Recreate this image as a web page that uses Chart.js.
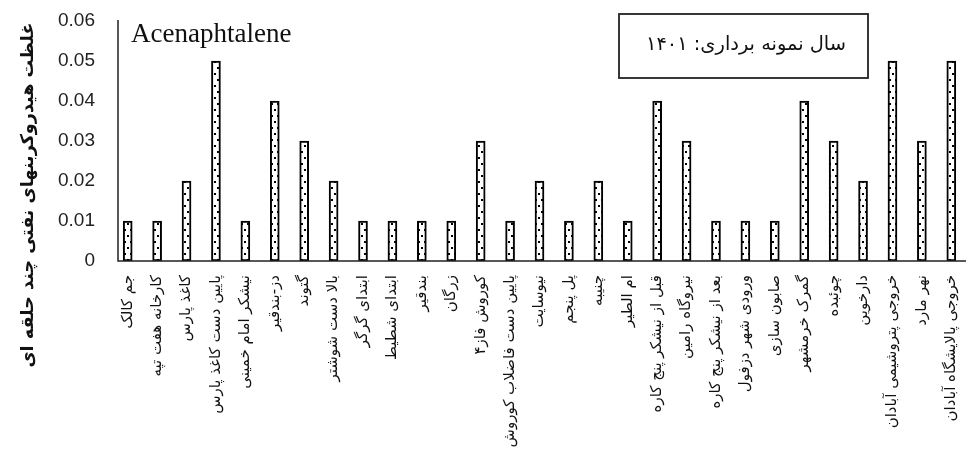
<!DOCTYPE html>
<html lang="fa">
<head>
<meta charset="utf-8">
<title>Acenaphtalene</title>
<script src="https://cdn.jsdelivr.net/npm/chart.js@4/dist/chart.umd.min.js"></script>
<style>
  html, body { margin: 0; padding: 0; background: #fff; }
  #wrap { position: relative; width: 966px; height: 466px; }
</style>
</head>
<body>
<div id="wrap"><canvas id="chart" width="966" height="466"></canvas></div>
<script>
// Sampling stations (left to right)
const stations = [
  'جم کالک',
  'کارخانه هفت تپه',
  'کاغذ پارس',
  'پایین دست کاغذ پارس',
  'نیشکر امام خمینی',
  'دز-بندقیر',
  'گتوند',
  'بالا دست شوشتر',
  'ابتدای گرگر',
  'ابتدای شطیط',
  'بندقیر',
  'زرگان',
  'کوروش فاز۴',
  'پایین دست فاضلاب کوروش',
  'نیوسایت',
  'پل پنجم',
  'چنیبه',
  'ام الطیر',
  'قبل از نیشکر پنج کاره',
  'نیروگاه رامین',
  'بعد از نیشکر پنج کاره',
  'ورودی شهر دزفول',
  'صابون سازی',
  'گمرک خرمشهر',
  'چوئبده',
  'دارخوین',
  'خروجی پتروشیمی آبادان',
  'نهر مارد',
  'خروجی پالایشگاه آبادان'
];

// Acenaphtalene concentration at each station
const acenaphtalene = [
  0.01, 0.01, 0.02, 0.05, 0.01, 0.04, 0.03, 0.02, 0.01, 0.01,
  0.01, 0.01, 0.03, 0.01, 0.02, 0.01, 0.02, 0.01, 0.04, 0.03,
  0.01, 0.01, 0.01, 0.04, 0.03, 0.02, 0.05, 0.03, 0.05
];

// Value axis ticks
const yTicks = [0, 0.01, 0.02, 0.03, 0.04, 0.05, 0.06];

const chartTitle = 'Acenaphtalene';
const legendText = 'سال نمونه برداری: ۱۴۰۱';
const yAxisTitle = 'غلظت هیدروکربنهای نفتی چند حلقه ای';

const FA_FONT = '"DejaVu Sans", "Noto Sans", sans-serif';

// Dotted fill for the bars
function dotPattern() {
  const c = document.createElement('canvas');
  c.width = 6; c.height = 12;
  const g = c.getContext('2d');
  g.fillStyle = '#ffffff';
  g.fillRect(0, 0, 6, 12);
  g.fillStyle = '#000000';
  g.fillRect(4, 1, 2, 2);
  g.fillRect(1, 7, 2, 2);
  return g.createPattern(c, 'repeat');
}

// Fit a font size so that the text spans the wanted width
function fitFont(ctx, text, weight, family, width) {
  ctx.font = weight + ' 20px ' + family;
  const w = ctx.measureText(text).width;
  return 20 * width / w;
}

// Axis lines, title, boxed legend and rotated value-axis caption
const decorations = {
  id: 'decorations',
  afterDraw(chart) {
    const ctx = chart.ctx;
    const area = chart.chartArea;
    const axisX = 118;
    ctx.save();

    // axis lines
    ctx.strokeStyle = '#222';
    ctx.lineWidth = 1.5;
    ctx.beginPath();
    ctx.moveTo(axisX, area.top - 1);
    ctx.lineTo(axisX, area.bottom);
    ctx.lineTo(chart.width, area.bottom);
    ctx.stroke();

    // chart title
    ctx.fillStyle = '#111';
    ctx.font = '27px "Liberation Serif", "DejaVu Serif", serif';
    ctx.textAlign = 'left';
    ctx.textBaseline = 'alphabetic';
    ctx.fillText(chartTitle, 131, 42);

    // legend box
    ctx.lineWidth = 1.8;
    ctx.strokeStyle = '#222';
    ctx.strokeRect(619, 14, 249, 64);
    const ls = fitFont(ctx, legendText, 'normal', FA_FONT, 200);
    ctx.font = ls.toFixed(1) + 'px ' + FA_FONT;
    ctx.textAlign = 'center';
    ctx.textBaseline = 'middle';
    ctx.fillStyle = '#111';
    ctx.direction = 'rtl';
    ctx.fillText(legendText, 746, 45);

    // value axis caption
    const ts = fitFont(ctx, yAxisTitle, 'bold', FA_FONT, 345);
    ctx.translate(28, 195);
    ctx.rotate(-Math.PI / 2);
    ctx.font = 'bold ' + ts.toFixed(1) + 'px ' + FA_FONT;
    ctx.fillText(yAxisTitle, 0, 0);
    ctx.restore();
  }
};

new Chart(document.getElementById('chart'), {
  type: 'bar',
  data: {
    labels: stations,
    datasets: [{
      label: legendText,
      data: acenaphtalene,
      backgroundColor: dotPattern(),
      borderColor: '#000',
      borderWidth: 2,
      borderSkipped: false,
      barThickness: 9
    }]
  },
  options: {
    responsive: false,
    animation: false,
    layout: { padding: { top: 21, right: 0, left: 0, bottom: 0 } },
    plugins: {
      legend: { display: false },
      tooltip: { enabled: false },
      title: { display: false }
    },
    scales: {
      x: {
        grid: { display: false, drawTicks: false },
        border: { display: false },
        ticks: {
          autoSkip: false,
          minRotation: 90,
          maxRotation: 90,
          padding: 14,
          color: '#111',
          font: { family: FA_FONT, size: 15 }
        },
        afterFit(scale) {
          scale.height = 205;
          scale.paddingLeft = 0;
          scale.paddingRight = 0;
        }
      },
      y: {
        min: 0,
        max: 0.06,
        grid: { display: false, drawTicks: false },
        border: { display: false },
        afterBuildTicks(scale) {
          scale.ticks = yTicks.map(v => ({ value: v }));
        },
        ticks: {
          padding: 18,
          color: '#222',
          font: { family: '"Liberation Sans", Arial, sans-serif', size: 19 },
          callback: v => (v === 0 ? '0' : v.toFixed(2))
        },
        afterFit(scale) {
          scale.width = 113;
          scale.paddingTop = 0;
          scale.paddingBottom = 0;
        }
      }
    }
  },
  plugins: [decorations]
});
</script>
</body>
</html>
